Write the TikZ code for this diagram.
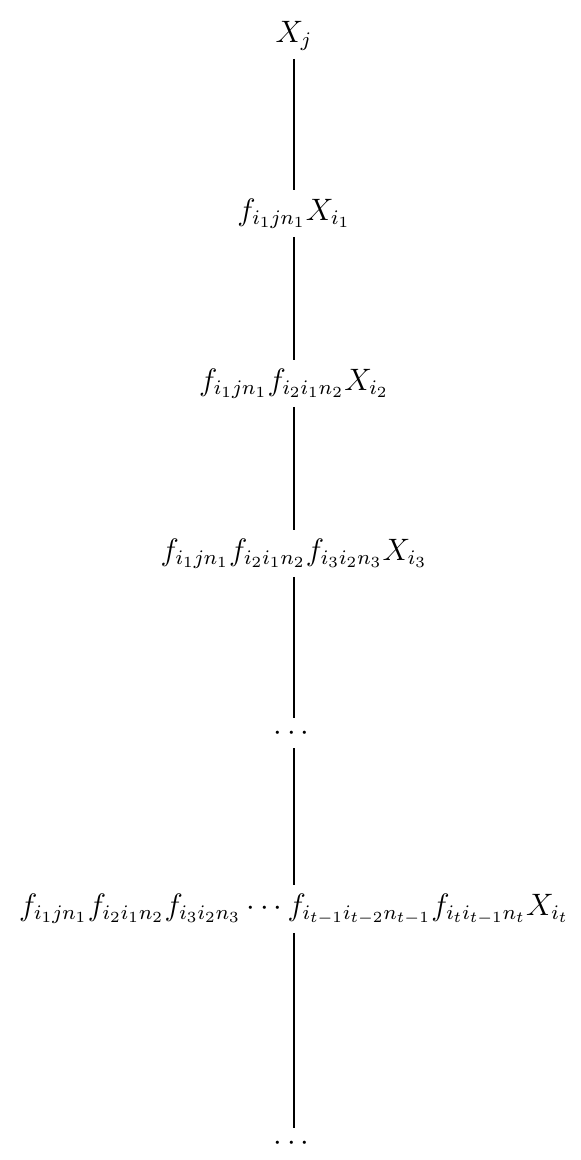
\documentclass[tikz,border=0pt]{standalone}
\usepackage{amsmath, amssymb}
\usepackage{tikz}
\usetikzlibrary{positioning}

\begin{document}
\begin{tikzpicture}[
			x=0.3875pt,
			y=-0.3875pt,
			font=\fontsize{12}{14.5}\selectfont,
			term/.style={anchor=base, inner sep=3pt},
			edge/.style={semithick}
			]
			\useasboundingbox (0,0) rectangle (581,1160);
			
			% -------------------------------
			% TERMS
			% -------------------------------
			\node[term] (t0) at (294,42)  {$X_j$};
			\node[term] (t1) at (294,220) {$f_{i_1jn_1}X_{i_1}$};
			\node[term] (t2) at (294,390) {$f_{i_1jn_1}f_{i_2i_1n_2}X_{i_2}$};
			\node[term] (t3) at (294,560) {$f_{i_1jn_1}f_{i_2i_1n_2}f_{i_3i_2n_3}X_{i_3}$};
			\node[term] (d1) at (294,740) {$\cdots$};
			\node[term] (tt) at (294,915) {$f_{i_1jn_1}f_{i_2i_1n_2}f_{i_3i_2n_3}\cdots f_{i_{t-1}i_{t-2}n_{t-1}}f_{i_ti_{t-1}n_t}X_{i_t}$};
			\node[term] (d2) at (294,1150) {$\cdots$};
			
			% -------------------------------
			% EDGES
			% -------------------------------
			\draw[edge] (t0) -- (t1);
			\draw[edge] (t1) -- (t2);
			\draw[edge] (t2) -- (t3);
			\draw[edge] (t3) -- (d1);
			\draw[edge] (d1) -- (tt);
			\draw[edge] (tt) -- (d2);
			
		\end{tikzpicture}
\end{document}
